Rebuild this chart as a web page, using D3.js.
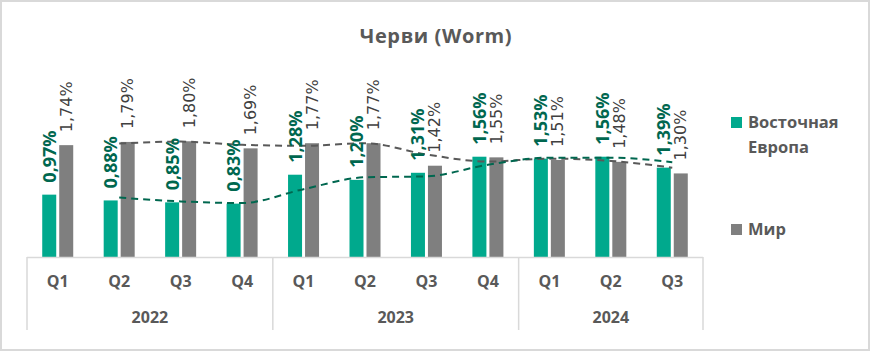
<!DOCTYPE html>
<html lang="ru">
<head>
  <meta charset="UTF-8">
  <title>Черви (Worm)</title>
  <script src="https://d3js.org/d3.v7.min.js"></script>
  <style>
    html, body { margin: 0; padding: 0; background: #fff; }
    svg { display: block; }
    .axis-text { font-family: "Open Sans", sans-serif; font-weight: 700; font-size: 16px; fill: #595959; }
    .legend { font-family: "Open Sans", sans-serif; font-weight: 700; font-size: 16.5px; fill: #595959; }
    .lbl-ee { font-family: "Open Sans", sans-serif; font-weight: 700; font-size: 18px; fill: #00674f; }
    .lbl-w { font-family: "DejaVu Sans", sans-serif; font-size: 16px; fill: #404040; }
  </style>
</head>
<body>
  <svg width="870" height="351"></svg>
  <script>
    // data
    var quarters = ["Q1", "Q2", "Q3", "Q4", "Q1", "Q2", "Q3", "Q4", "Q1", "Q2", "Q3"];
    var years = ["2022", "2022", "2022", "2022", "2023", "2023", "2023", "2023", "2024", "2024", "2024"];
    var eastEurope = [0.97, 0.88, 0.85, 0.83, 1.28, 1.20, 1.31, 1.56, 1.53, 1.56, 1.39];
    var world = [1.74, 1.79, 1.80, 1.69, 1.77, 1.77, 1.42, 1.55, 1.51, 1.48, 1.30];
    var seriesNames = ["Восточная Европа", "Мир"];

    var svg = d3.select("svg"),
        W = +svg.attr("width"),
        H = +svg.attr("height"),
        axisY = 257;

    var green = "#00a98d", darkGreen = "#00674f", grey = "#7f7f7f";

    // chart border
    svg.append("rect")
      .attr("x", 1).attr("y", 1)
      .attr("width", W - 2).attr("height", H - 2)
      .attr("fill", "#fff")
      .attr("stroke", "#d9d9d9")
      .attr("stroke-width", 2);

    svg.append("text")
      .attr("x", W / 2 + 1).attr("y", 43)
      .attr("text-anchor", "middle")
      .style("font-family", "'Open Sans', sans-serif")
      .style("font-weight", 700)
      .style("font-size", "20px")
      .style("letter-spacing", "0.6px")
      .style("fill", "#595959")
      .text("Черви (Worm)");

    var idx = d3.range(quarters.length);
    var x = d3.scaleBand().domain(idx).range([27, 703]).padding(0);
    var xs = d3.scaleBand().domain([0, 1])
        .range([x.bandwidth() / 2 - 15.5, x.bandwidth() / 2 + 15.5])
        .paddingInner(0.176);
    var y = d3.scaleLinear().domain([0, 3.5]).range([axisY, 32]);

    var fmt = function(v) { return d3.format(".2f")(v).replace(".", ",") + "%"; };

    var g = svg.append("g");

    // bars
    [eastEurope, world].forEach(function(vals, s) {
      g.selectAll(".bar" + s)
        .data(vals)
        .enter().append("rect")
        .attr("class", "bar" + s)
        .attr("x", function(d, i) { return x(i) + xs(s); })
        .attr("y", function(d) { return y(d); })
        .attr("width", xs.bandwidth())
        .attr("height", function(d) { return axisY - y(d); })
        .attr("fill", s === 0 ? green : grey);
    });

    // two-period moving average trendlines (as in the original chart)
    function movingAvg(vals) {
      return vals.map(function(v, i) { return i === 0 ? null : { i: i, v: d3.mean([vals[i - 1], v]) }; })
        .filter(function(d) { return d; });
    }
    var line = d3.line()
      .curve(d3.curveMonotoneX)
      .x(function(d) { return x(d.i) + x.bandwidth() / 2; })
      .y(function(d) { return y(d.v); });

    g.append("path")
      .datum(movingAvg(world))
      .attr("d", line)
      .attr("fill", "none")
      .attr("stroke", "#595959")
      .attr("stroke-width", 2)
      .attr("stroke-dasharray", "7,5");

    g.append("path")
      .datum(movingAvg(eastEurope))
      .attr("d", line)
      .attr("fill", "none")
      .attr("stroke", darkGreen)
      .attr("stroke-width", 2)
      .attr("stroke-dasharray", "7,5");

    // rotated value labels
    [eastEurope, world].forEach(function(vals, s) {
      g.selectAll(".lbl" + s)
        .data(vals)
        .enter().append("text")
        .attr("class", s === 0 ? "lbl-ee" : "lbl-w")
        .attr("transform", function(d, i) {
          var cx = x(i) + xs(s) + xs.bandwidth() / 2 + (s === 0 ? 6.5 : 5.5);
          return "translate(" + cx + "," + (y(d) - (s === 0 ? 12 : 13)) + ") rotate(-90)";
        })
        .text(fmt);
    });

    // category axis (two levels)
    var ax = svg.append("g");
    ax.append("line")
      .attr("x1", 27).attr("x2", 703)
      .attr("y1", axisY + 0.5).attr("y2", axisY + 0.5)
      .attr("stroke", "#d9d9d9").attr("stroke-width", 1.5);

    ax.selectAll(".q")
      .data(quarters)
      .enter().append("text")
      .attr("class", "axis-text")
      .attr("x", function(d, i) { return x(i) + x.bandwidth() / 2; })
      .attr("y", 287)
      .attr("text-anchor", "middle")
      .text(function(d) { return d; });

    var yearGroups = d3.groups(idx, function(i) { return years[i]; });
    var edges = [x(0)];
    yearGroups.forEach(function(gr) {
      var first = gr[1][0], last = gr[1][gr[1].length - 1];
      edges.push(x(last) + x.bandwidth());
      ax.append("text")
        .attr("class", "axis-text")
        .attr("x", (x(first) + x(last) + x.bandwidth()) / 2)
        .attr("y", 323)
        .attr("text-anchor", "middle")
        .text(gr[0]);
    });
    ax.selectAll(".div")
      .data(edges)
      .enter().append("line")
      .attr("x1", function(d) { return d; }).attr("x2", function(d) { return d; })
      .attr("y1", axisY).attr("y2", 330)
      .attr("stroke", "#d9d9d9").attr("stroke-width", 1.5);

    // legend
    var leg = svg.append("g");
    leg.append("rect").attr("x", 731).attr("y", 117).attr("width", 11).attr("height", 11).attr("fill", green);
    leg.append("text").attr("class", "legend").attr("x", 748).attr("y", 128).text("Восточная");
    leg.append("text").attr("class", "legend").attr("x", 748).attr("y", 153).text("Европа");
    leg.append("rect").attr("x", 731).attr("y", 224).attr("width", 11).attr("height", 11).attr("fill", grey);
    leg.append("text").attr("class", "legend").attr("x", 748).attr("y", 235).text(seriesNames[1]);
  </script>
</body>
</html>
